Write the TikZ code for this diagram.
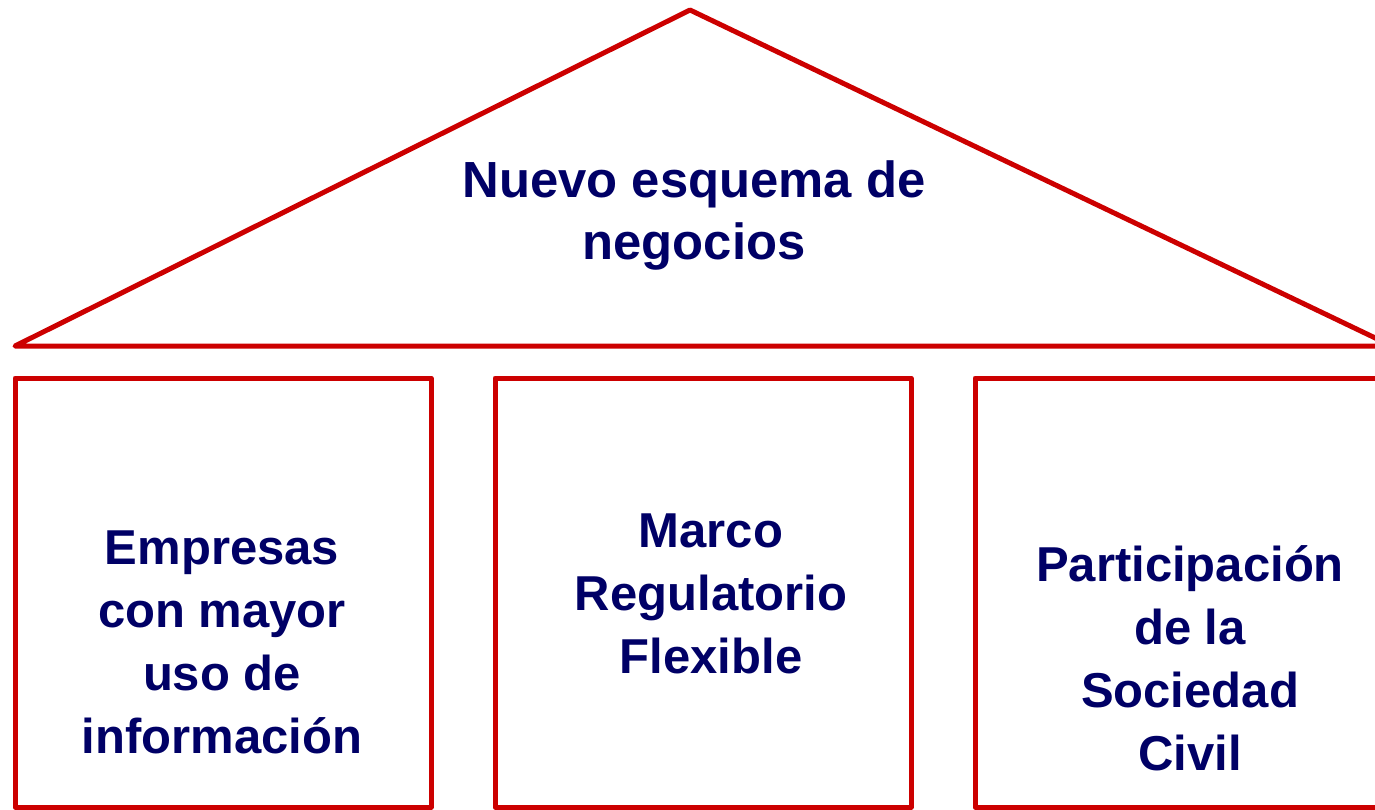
\documentclass[tikz,border=0pt]{standalone}
\usepackage{fontspec}
\setmainfont{Liberation Sans}
\definecolor{roofred}{HTML}{CC0000}
\definecolor{navytext}{HTML}{000066}
\begin{document}
\begin{tikzpicture}[x=0.5pt,y=-0.5pt,
  edge/.style={draw=roofred,line width=2.5pt,line join=round,line cap=round},
  lbl/.style={text=navytext,font=\fontsize{24.5}{31.5}\selectfont\bfseries,align=center,inner sep=0pt},
  rooflbl/.style={lbl,font=\fontsize{25.4}{31}\selectfont\bfseries}]
\useasboundingbox (0,0) rectangle (1375,809);
\clip (0,0) rectangle (1375,809);
\coordinate (apex) at (690,10);
\coordinate (bl) at (15,346);
\coordinate (br) at (1392,346);
\draw[edge] (bl) -- (apex) -- (br) -- cycle;
\draw[edge] (15,378) rectangle (431,807);
\draw[edge] (495,378) rectangle (911,807);
\draw[edge] (975,378) rectangle (1391,807);
\node[rooflbl] (roof) at (694,215) {Nuevo esquema de\\negocios};
\node[lbl] (p1) at (222,642) {Empresas\\con mayor\\uso de\\información};
\node[lbl] (p2) at (711,594) {Marco\\Regulatorio\\Flexible};
\node[lbl] (p3) at (1190,658) {Participación\\de la\\Sociedad\\Civil};
\end{tikzpicture}
\end{document}
